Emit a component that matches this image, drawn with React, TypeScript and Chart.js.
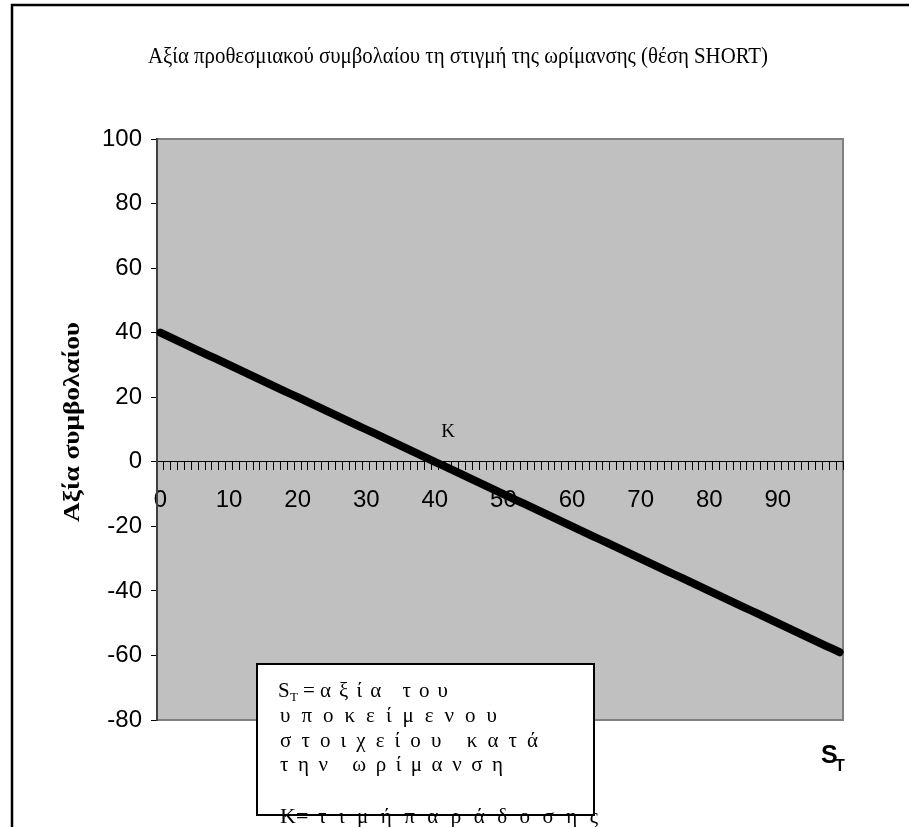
import React, { useEffect, useRef } from "react";
import { Chart, registerables } from "chart.js";

Chart.register(...registerables);

// Underlying price at maturity S_T (categories)
const categories: number[] = [
  0, 1, 2, 3, 4, 5, 6, 7, 8, 9,
  10, 11, 12, 13, 14, 15, 16, 17, 18, 19,
  20, 21, 22, 23, 24, 25, 26, 27, 28, 29,
  30, 31, 32, 33, 34, 35, 36, 37, 38, 39,
  40, 41, 42, 43, 44, 45, 46, 47, 48, 49,
  50, 51, 52, 53, 54, 55, 56, 57, 58, 59,
  60, 61, 62, 63, 64, 65, 66, 67, 68, 69,
  70, 71, 72, 73, 74, 75, 76, 77, 78, 79,
  80, 81, 82, 83, 84, 85, 86, 87, 88, 89,
  90, 91, 92, 93, 94, 95, 96, 97, 98, 99,
];

// Short forward value at maturity
const contractValue: number[] = [
  40, 39, 38, 37, 36, 35, 34, 33, 32, 31,
  30, 29, 28, 27, 26, 25, 24, 23, 22, 21,
  20, 19, 18, 17, 16, 15, 14, 13, 12, 11,
  10, 9, 8, 7, 6, 5, 4, 3, 2, 1,
  0, -1, -2, -3, -4, -5, -6, -7, -8, -9,
  -10, -11, -12, -13, -14, -15, -16, -17, -18, -19,
  -20, -21, -22, -23, -24, -25, -26, -27, -28, -29,
  -30, -31, -32, -33, -34, -35, -36, -37, -38, -39,
  -40, -41, -42, -43, -44, -45, -46, -47, -48, -49,
  -50, -51, -52, -53, -54, -55, -56, -57, -58, -59,
];

const xTickLabels: string[] = ["0", "10", "20", "30", "40", "50", "60", "70", "80", "90"];
const yMin = -80;
const yMax = 100;
const yStep = 20;

const chartTitle = "Αξία προθεσμιακού συμβολαίου τη στιγμή της ωρίμανσης (θέση SHORT)";
const yTitle = "Αξία συμβολαίου";
const kLabel = "K";
const boxLines: string[] = [
  "α ξ ί α   τ ο υ",
  "υ π ο κ ε ί μ ε ν ο υ",
  "σ τ ο ι χ ε ί ο υ   κ α τ ά",
  "τ η ν   ω ρ ί μ α ν σ η",
  "τ ι μ ή π α ρ ά δ ο σ η ς",
];

const SERIF = "'Liberation Serif', 'Times New Roman', serif";
const SANS = "'Liberation Sans', Arial, sans-serif";

function drawSpaced(ctx: CanvasRenderingContext2D, text: string, x0: number, x1: number, y: number) {
  const chars = Array.from(text);
  const widths = chars.map((c) => ctx.measureText(c).width);
  const natural = widths.reduce((a, b) => a + b, 0);
  const extra = chars.length > 1 ? (x1 - x0 - natural) / (chars.length - 1) : 0;
  let x = x0;
  ctx.textAlign = "left";
  chars.forEach((c, i) => {
    ctx.fillText(c, x, y);
    x += widths[i] + extra;
  });
}

function drawFitted(ctx: CanvasRenderingContext2D, text: string, x0: number, width: number, y: number) {
  const tw = ctx.measureText(text).width;
  ctx.save();
  ctx.textAlign = "left";
  ctx.translate(x0, y);
  ctx.scale(width / tw, 1);
  ctx.fillText(text, 0, 0);
  ctx.restore();
}

const decorPlugin = {
  id: "decor",
  beforeDraw(chart: any) {
    const { ctx, chartArea } = chart;
    ctx.save();
    ctx.fillStyle = "#ffffff";
    ctx.fillRect(0, 0, chart.width, chart.height);
    ctx.fillStyle = "#c0c0c0";
    ctx.fillRect(chartArea.left, chartArea.top, chartArea.right - chartArea.left, chartArea.bottom - chartArea.top);
    ctx.strokeStyle = "#808080";
    ctx.lineWidth = 2;
    ctx.beginPath();
    ctx.moveTo(chartArea.left, chartArea.top);
    ctx.lineTo(chartArea.right, chartArea.top);
    ctx.lineTo(chartArea.right, chartArea.bottom);
    ctx.lineTo(chartArea.left, chartArea.bottom);
    ctx.stroke();
    ctx.restore();
  },
  afterDraw(chart: any) {
    const { ctx } = chart;
    ctx.save();
    // outer frame (top + left)
    ctx.strokeStyle = "#000";
    ctx.lineWidth = 2.5;
    ctx.beginPath();
    ctx.moveTo(12, 827);
    ctx.lineTo(12, 5);
    ctx.lineTo(909, 5);
    ctx.stroke();

    // title
    ctx.fillStyle = "#000";
    ctx.font = `24px ${SERIF}`;
    ctx.textBaseline = "alphabetic";
    drawFitted(ctx, chartTitle, 148, 620, 63);

    // y title
    ctx.save();
    ctx.translate(79, 422);
    ctx.rotate(-Math.PI / 2);
    ctx.font = `bold 24px ${SERIF}`;
    ctx.textBaseline = "alphabetic";
    drawFitted(ctx, yTitle, -100, 200, 0);
    ctx.restore();

    // K label
    ctx.font = `19px ${SERIF}`;
    ctx.textAlign = "center";
    ctx.textBaseline = "middle";
    ctx.fillText(kLabel, 448, 432);

    // S_T axis label
    ctx.textAlign = "left";
    ctx.textBaseline = "alphabetic";
    ctx.font = `bold 25px ${SANS}`;
    ctx.fillText("S", 821, 763);
    ctx.font = `bold 16px ${SANS}`;
    ctx.fillText("T", 835, 771);

    // text box
    ctx.fillStyle = "#fff";
    ctx.fillRect(257, 664, 337, 151);
    ctx.strokeStyle = "#000";
    ctx.lineWidth = 2;
    ctx.strokeRect(257, 664, 337, 151);

    ctx.fillStyle = "#000";
    ctx.font = `21px ${SERIF}`;
    ctx.fillText("S", 278, 697);
    ctx.font = `13px ${SERIF}`;
    ctx.fillText("T", 290, 701);
    ctx.font = `21px ${SERIF}`;
    ctx.fillText("=", 303, 697);
    ctx.font = `21px ${SERIF}`;
    drawSpaced(ctx, boxLines[0], 320, 448, 697);
    drawSpaced(ctx, boxLines[1], 280, 497, 722);
    drawSpaced(ctx, boxLines[2], 280, 538, 747);
    drawSpaced(ctx, boxLines[3], 280, 503, 771);
    ctx.font = `22px ${SERIF}`;
    ctx.fillText("K=", 280, 823);
    ctx.font = `21px ${SERIF}`;
    drawSpaced(ctx, boxLines[4], 318, 598, 823);
    ctx.restore();
  },
};

export default function App() {
  const canvasRef = useRef<HTMLCanvasElement | null>(null);

  useEffect(() => {
    document.body.style.margin = "0";
    const canvas = canvasRef.current;
    if (!canvas) return;
    const chart = new Chart(canvas, {
      type: "line",
      data: {
        labels: categories.map(String),
        datasets: [
          {
            data: contractValue,
            borderColor: "#000",
            borderWidth: 8,
            pointRadius: 0,
            tension: 0,
            fill: false,
            borderCapStyle: "round",
            borderJoinStyle: "round",
          },
        ],
      },
      options: {
        animation: false,
        responsive: false,
        devicePixelRatio: 1,
        layout: { padding: { left: 0, top: 139, right: 66, bottom: 107 } },
        plugins: {
          legend: { display: false },
          tooltip: { enabled: false },
          title: { display: false },
        },
        scales: {
          x: {
            type: "category",
            offset: true,
            position: { y: 0 } as any,
            grid: {
              display: true,
              drawOnChartArea: false,
              drawTicks: true,
              tickLength: 8,
              tickColor: "#000",
              tickWidth: 1,
              offset: true,
            },
            border: { display: true, color: "#000", width: 1 },
            ticks: {
              autoSkip: false,
              maxRotation: 0,
              minRotation: 0,
              padding: 16,
              color: "#000",
              font: { family: SANS, size: 24 },
              callback: (_v: any, i: number) => {
                const lbl = String(categories[i]);
                return xTickLabels.includes(lbl) ? lbl : "";
              },
            },
          },
          y: {
            min: yMin,
            max: yMax,
            afterFit: (s: any) => {
              s.width = 157;
            },
            grid: {
              display: true,
              drawOnChartArea: false,
              drawTicks: true,
              tickLength: 6,
              tickColor: "#000",
            },
            border: { display: true, color: "#404040", width: 2 },
            ticks: {
              stepSize: yStep,
              padding: 9,
              color: "#000",
              font: { family: SANS, size: 24 },
            },
          },
        },
      },
      plugins: [decorPlugin],
    });
    return () => chart.destroy();
  }, []);

  return (
    <div style={{ position: "absolute", left: 0, top: 0, width: 909, height: 827 }}>
      <canvas ref={canvasRef} width={909} height={827} style={{ width: 909, height: 827, display: "block" }} />
    </div>
  );
}
